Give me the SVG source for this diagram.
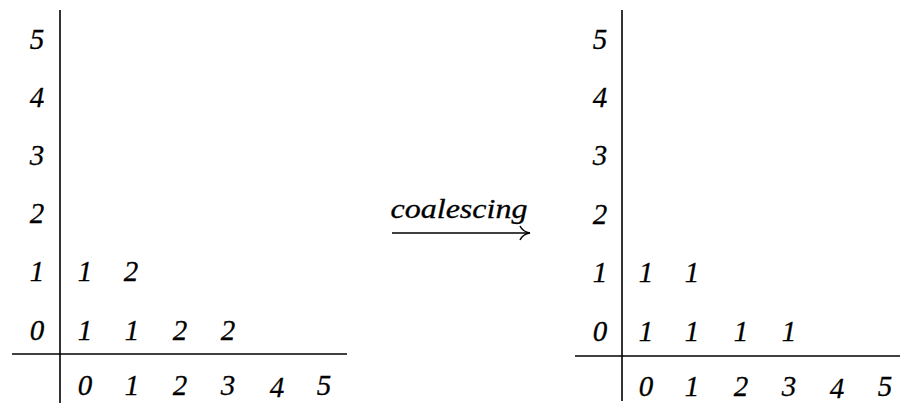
<svg xmlns="http://www.w3.org/2000/svg" width="900" height="409" viewBox="0 0 900 409">
<style>
.ax{stroke:#000;stroke-width:1.6;fill:none}
.t{stroke:#000;stroke-width:0.3}
</style>
<defs>
<marker id="hook" viewBox="0 0 12 16" refX="11" refY="8" markerWidth="12" markerHeight="16" markerUnits="userSpaceOnUse" orient="auto">
<path d="M1 1 Q4 7 11 8 Q4 9 1 15" fill="none" stroke="#000" stroke-width="1.5"/>
</marker>
</defs>
<rect width="900" height="409" fill="#fff"/>
<g font-family="Liberation Serif" font-style="italic" font-size="29" text-anchor="middle" fill="#000">
<g id="left-chart">
<line class="ax" x1="60" y1="10" x2="60" y2="403"/>
<line class="ax" x1="12" y1="354" x2="347" y2="354"/>
<g id="left-rows" class="t">
<text x="37" y="49">5</text><text x="37" y="107">4</text><text x="37" y="165">3</text>
<text x="37" y="223">2</text><text x="37" y="281">1</text><text x="37" y="340">0</text>
</g>
<g id="left-cols" class="t">
<text x="85" y="395">0</text><text x="132" y="395">1</text><text x="180" y="395">2</text>
<text x="228" y="395">3</text><text x="277" y="397">4</text><text x="324" y="395">5</text>
</g>
<g id="left-data" class="t">
<text x="85" y="281">1</text><text x="131" y="281">2</text>
<text x="85" y="340">1</text><text x="132" y="340">1</text><text x="180" y="340">2</text><text x="228" y="340">2</text>
</g>
</g>
<g id="connectors">
<text class="t" x="459" y="218" font-size="28" textLength="137" lengthAdjust="spacingAndGlyphs">coalescing</text>
<line class="ax" x1="392" y1="233" x2="530" y2="233" marker-end="url(#hook)"/>
</g>
<g id="right-chart">
<line class="ax" x1="622" y1="10" x2="622" y2="401"/>
<line class="ax" x1="575" y1="356" x2="900" y2="356"/>
<g id="right-rows" class="t">
<text x="600" y="49">5</text><text x="600" y="107">4</text><text x="600" y="165">3</text>
<text x="600" y="224">2</text><text x="600" y="282">1</text><text x="600" y="341">0</text>
</g>
<g id="right-cols" class="t">
<text x="646" y="396">0</text><text x="692" y="396">1</text><text x="741" y="396">2</text>
<text x="789" y="396">3</text><text x="837" y="398">4</text><text x="885" y="396">5</text>
</g>
<g id="right-data" class="t">
<text x="646" y="282">1</text><text x="692" y="282">1</text>
<text x="646" y="341">1</text><text x="692" y="341">1</text><text x="741" y="341">1</text><text x="789" y="341">1</text>
</g>
</g>
</g>
</svg>
